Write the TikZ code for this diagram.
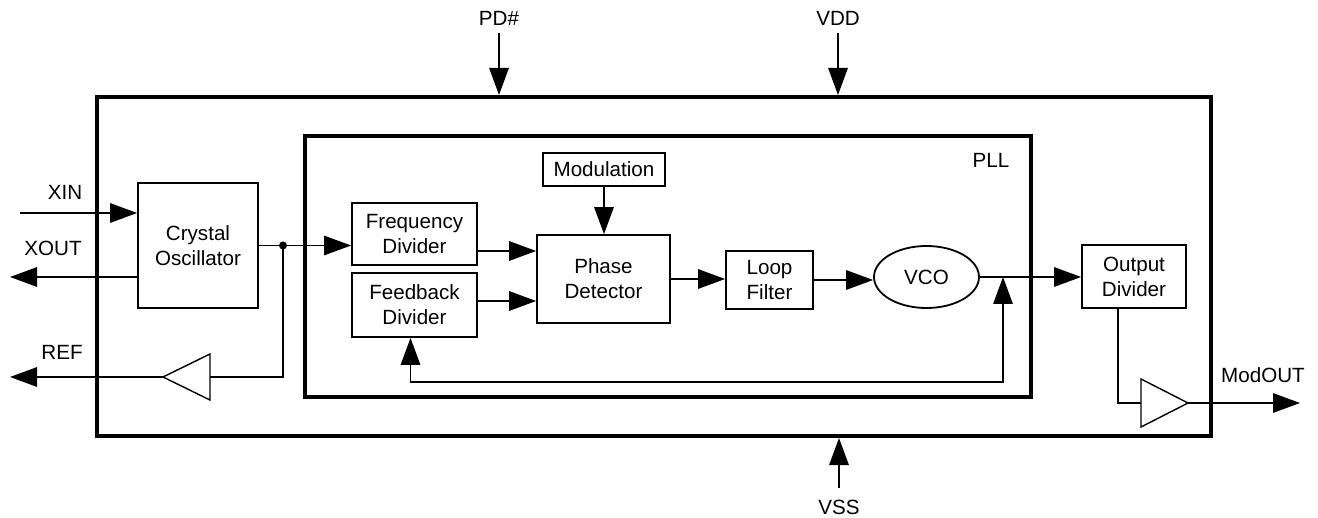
\documentclass[tikz,border=0pt]{standalone}
\usepackage{fontspec}
\setmainfont{Liberation Sans}
\usepackage{tikz}
\usetikzlibrary{
    positioning,
    arrows.meta,
    calc,
    shapes.geometric
}

\begin{document}
\begin{tikzpicture}[x=0.5pt, y=-0.5pt,
        txt/.style={font=\fontsize{10.3}{12.5}\selectfont, align=center, inner sep=0pt},
        blk/.style={txt, draw, line width=0.9pt},
        frame/.style={draw, line width=2pt, inner sep=0pt},
        wire/.style={line width=0.7pt},
        conn/.style={wire, -{Triangle[length=13.5pt, width=9.75pt]}},
        loopback/.style={wire, {Triangle[length=13.5pt, width=9.75pt]}-{Triangle[length=13.5pt, width=9.75pt]}}
    ]
            \useasboundingbox (0,0) rectangle (1318,518);

            \node[frame, minimum width=557pt, minimum height=169.5pt] (chip) at (654,266.5) {};
            \node[frame, minimum width=363pt, minimum height=130.5pt] (pll) at (668,266.5) {};
            \node[txt] (plllbl) at (991,160) {PLL};

            \node[blk, minimum width=60pt, minimum height=62.5pt] (xtal) at (198,245.5) {Crystal\\Oscillator};
            \node[blk, minimum width=62.5pt, minimum height=31pt] (fdiv) at (414.5,234) {Frequency\\Divider};
            \node[blk, minimum width=62.5pt, minimum height=32pt] (fbdiv) at (414.5,305) {Feedback\\Divider};
            \node[blk, minimum width=61pt, minimum height=16.5pt] (modu) at (604,169.5) {Modulation};
            \node[blk, minimum width=66.5pt, minimum height=44pt] (pd) at (603.5,279) {Phase\\Detector};
            \node[blk, minimum width=43.5pt, minimum height=29pt] (lf) at (769.5,280) {Loop\\Filter};
            \node[blk, ellipse, minimum width=52.5pt, minimum height=31pt] (vco) at (926.5,277) {VCO};
            \node[blk, minimum width=52pt, minimum height=31.5pt] (odiv) at (1134,276.5) {Output\\Divider};

            \coordinate (xin) at (20,213);
            \coordinate (xout) at (10,277);
            \coordinate (ref) at (10,377);
            \coordinate (tap) at (283,245.5);
            \coordinate (refin) at (210,377);
            \coordinate (refout) at (163,377);
            \coordinate (loopbot) at (1003,382);
            \coordinate (modin) at (1141,403);
            \coordinate (modout) at (1188,403);
            \coordinate (modpin) at (1300,403);
            \coordinate (pdpin) at (499,33);
            \coordinate (vddpin) at (838,33);
            \coordinate (vsspin) at (839,488);

            \draw[wire, line join=miter] ([yshift=11.5pt]refin) -- ([yshift=-11.5pt]refin) -- (refout) -- cycle;
            \draw[wire, line join=miter] ([yshift=12pt]modin) -- ([yshift=-12pt]modin) -- (modout) -- cycle;

            \draw[conn] (xin) -- (xin -| xtal.west);
            \draw[conn] (xtal.west |- xout) -- (xout);
            \draw[conn] (xtal.east) -- (xtal.east -| fdiv.west);
            \fill (tap) circle (2pt);
            \draw[wire] (tap) |- (refin);
            \draw[conn] (refout) -- (ref);

            \draw[conn] ([yshift=-8.5pt]fdiv.east) -- ([yshift=-8.5pt]fdiv.east -| pd.west);
            \draw[conn] ([yshift=2pt]fbdiv.east) -- ([yshift=2pt]fbdiv.east -| pd.west);
            \draw[conn] (modu.south) -- (modu.south |- pd.north);
            \draw[conn] (pd.east) -- (pd.east -| lf.west);
            \draw[conn] (lf.east) -- (lf.east -| vco.west);
            \draw[conn] (vco.east) -- (vco.east -| odiv.west);
            \draw[loopback] ([xshift=-2pt]fbdiv.south) |- (loopbot) -- (loopbot |- vco.east);
            \draw[wire] ([xshift=-8pt]odiv.south) |- (modin);
            \draw[conn] (modout) -- (modpin);

            \draw[conn] (pdpin) -- (pdpin |- chip.north);
            \draw[conn] (vddpin) -- (vddpin |- chip.north);
            \draw[conn] (vsspin) -- (vsspin |- chip.south);

            \node[txt] (xinlbl) at (65,192) {XIN};
            \node[txt] (xoutlbl) at (53,248) {XOUT};
            \node[txt] (reflbl) at (62,352) {REF};
            \node[txt] (modlbl) at (1263,375) {ModOUT};
            \node[txt] (pdlbl) at (499,18) {PD\#};
            \node[txt] (vddlbl) at (838,18) {VDD};
            \node[txt] (vsslbl) at (839,507) {VSS};
        \end{tikzpicture}
\end{document}
